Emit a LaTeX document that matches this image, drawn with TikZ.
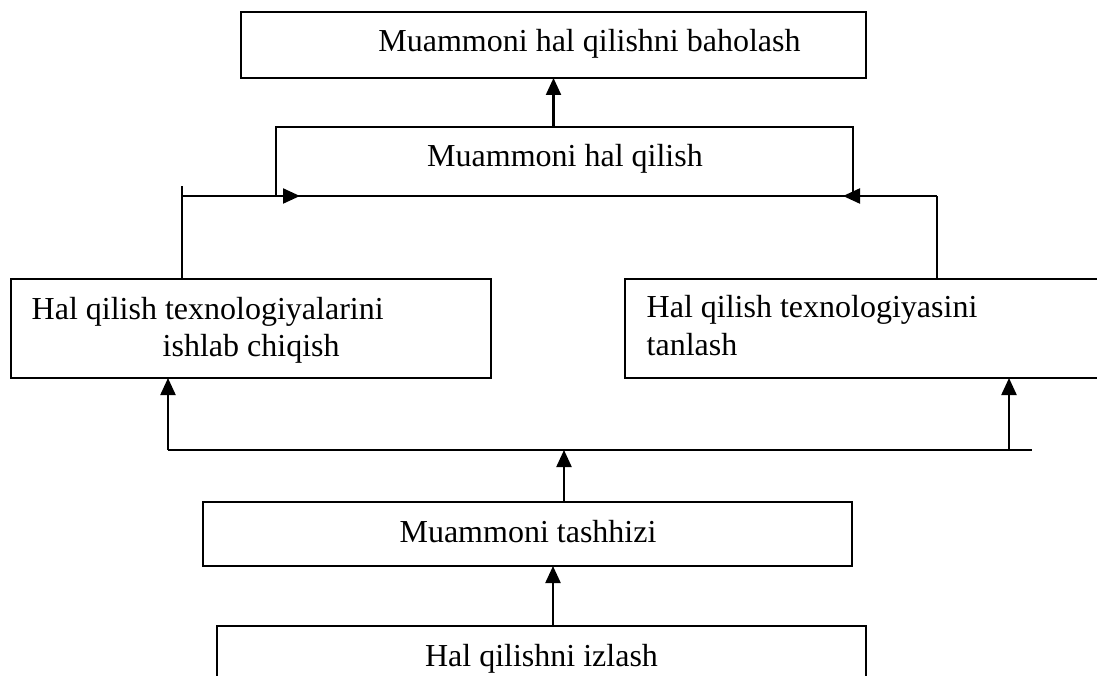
\documentclass[tikz,border=0pt]{standalone}
\usepackage{fontspec}
\setmainfont{Liberation Serif}
\usetikzlibrary{arrows.meta}
\begin{document}
\begin{tikzpicture}[x=1pt,y=-1pt,
  box/.style={draw, line width=1.5pt, inner sep=0pt, outer sep=0pt, anchor=north west},
  lbl/.style={inner sep=0pt, anchor=base west, font=\fontsize{32}{37}\selectfont},
  clbl/.style={lbl, anchor=base},
  conn/.style={line width=2.2pt},
  arr/.style={conn, -{Triangle[length=17pt,width=15pt]}}]
\clip (0,0) rectangle (1097,676);
\fill[white] (0,0) rectangle (1097,676);
% boxes
\node[box, minimum width=625pt, minimum height=66pt] (b1) at (241,12) {};
\node[box, minimum width=577pt, minimum height=69pt] (b2) at (276,127) {};
\node[box, minimum width=480pt, minimum height=99pt] (b3) at (11,279) {};
\node[box, minimum width=500pt, minimum height=99pt] (b4) at (625,279) {};
\node[box, minimum width=649pt, minimum height=64pt] (b5) at (203,502) {};
\node[box, minimum width=649pt, minimum height=80pt] (b6) at (217,626) {};
% texts
\node[clbl] (t1) at (589.5,52) {Muammoni hal qilishni baholash};
\node[clbl] (t2) at (565,167) {Muammoni hal qilish};
\node[lbl] (t3a) at (31.5,319) {Hal qilish texnologiyalarini};
\node[lbl] (t3b) at (162.5,356) {ishlab chiqish};
\node[lbl] (t4a) at (646.5,317) {Hal qilish texnologiyasini};
\node[lbl] (t4b) at (646.5,355) {tanlash};
\node[clbl] (t5) at (528,542) {Muammoni tashhizi};
\node[clbl] (t6) at (541.5,666) {Hal qilishni izlash};
% helper coordinates
\coordinate (lt) at (182,186);
\coordinate (lc) at (182,196);
\coordinate (la) at (300,196);
\coordinate (rc) at (937,196);
\coordinate (ra) at (843,196);
\coordinate (busL) at (168,450);
\coordinate (busR) at (1032,450);
\coordinate (busA) at (1009,450);
\coordinate (u5) at (564,450);
\coordinate (d6) at (553,600);
% connectors
\draw[arr] (b1.south |- b2.north) -- (b1.south);
\draw[conn] (lt |- b3.north) -- (lt);
\draw[arr] (lc) -- (la);
\draw[conn] (rc |- b4.north) -- (rc);
\draw[arr] (rc) -- (ra);
\draw[conn] (busL) -- (busR);
\draw[arr] (busL) -- (busL |- b3.south);
\draw[arr] (busA) -- (busA |- b4.south);
\draw[arr] (u5 |- b5.north) -- (u5);
\draw[arr] (d6 |- b6.north) -- (d6 |- b5.south);
\end{tikzpicture}
\end{document}
